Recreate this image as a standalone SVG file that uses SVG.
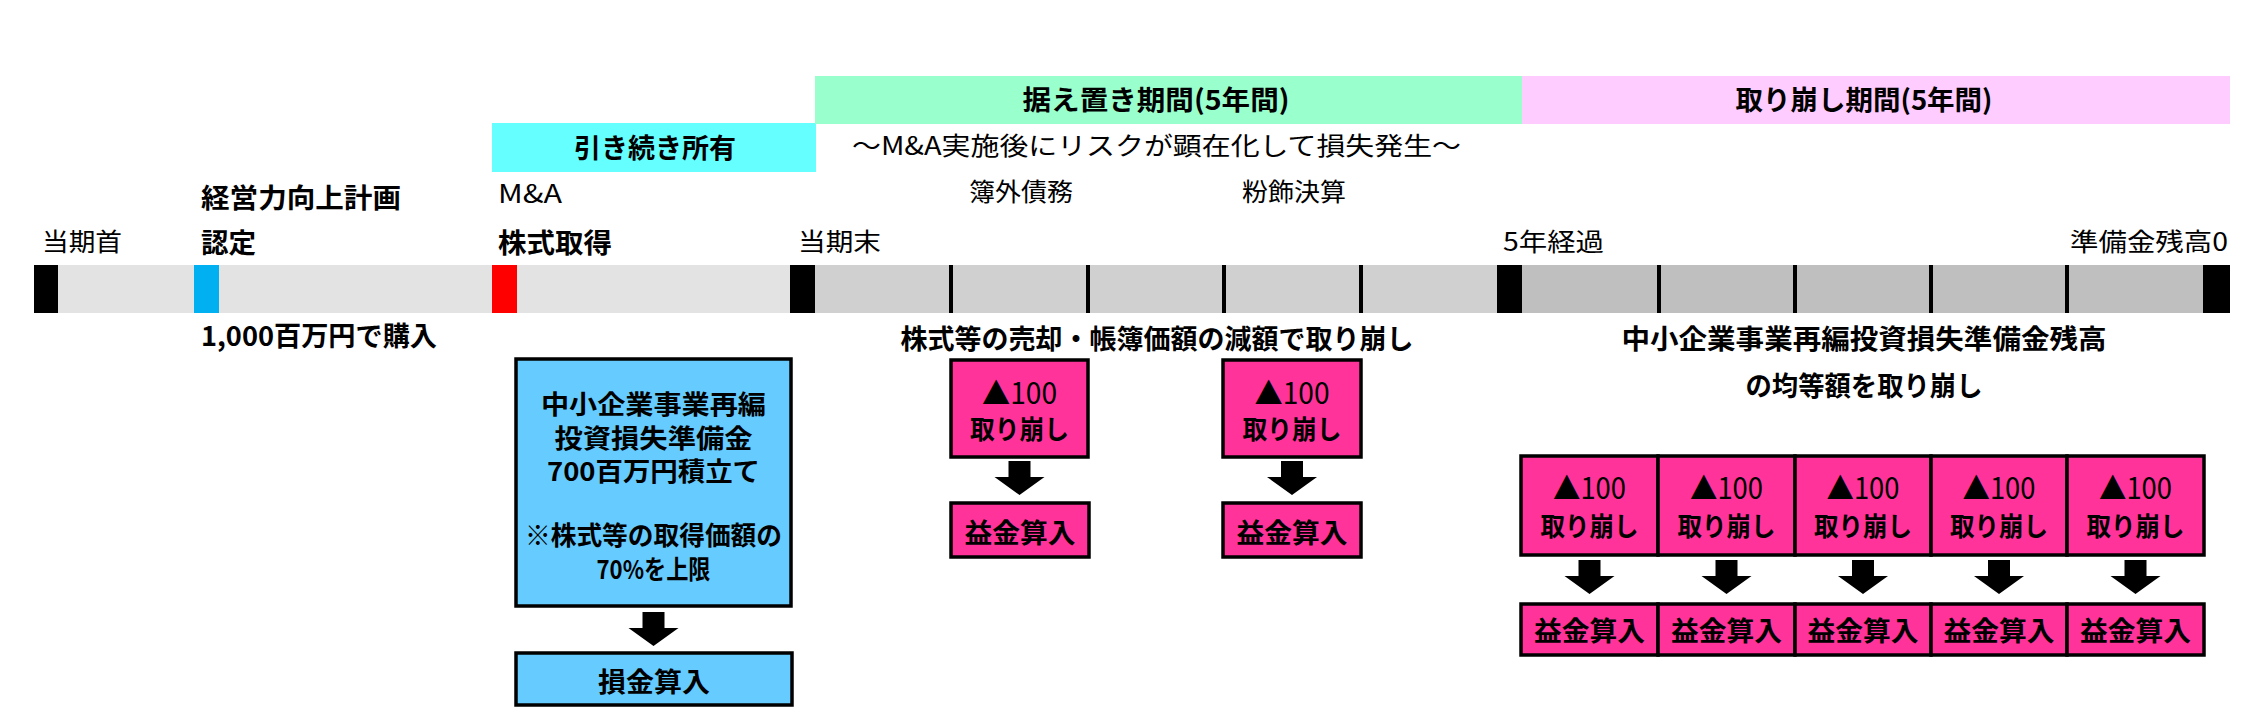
<svg xmlns="http://www.w3.org/2000/svg" xmlns:xlink="http://www.w3.org/1999/xlink" width="2260" height="720" viewBox="0 0 2260 720">
<style>
text{font-family:'Noto Sans CJK JP','Noto Sans',sans-serif;fill:#000}
.n{font-size:25px;font-weight:400}
.b{font-size:27px;font-weight:700}
.bx{font-size:26px;font-weight:700}
.tri{font-size:30px;font-weight:400}
.c{text-anchor:middle}
.blk{fill:#000}
.pk{fill:#ff3399;stroke:#000;stroke-width:3.5}
.bl{fill:#66ccff;stroke:#000;stroke-width:3.5}
.tick{stroke:#000;stroke-width:4}
</style>
<defs>
<path id="arr" d="M-11,0 H11 V16 H25 L0,34 L-25,16 H-11 Z" fill="#000"/>
</defs>
<rect width="2260" height="720" fill="#fff"/>

<g id="period-hold">
<rect x="492" y="123" width="324" height="49" fill="#66ffff"/>
<text class="b c" x="655" y="158" textLength="162" lengthAdjust="spacingAndGlyphs">引き続き所有</text>
</g>
<g id="period-defer">
<rect x="815" y="76" width="708" height="48" fill="#99ffcc"/>
<text class="b c" x="1156" y="110" textLength="267" lengthAdjust="spacingAndGlyphs">据え置き期間(5年間)</text>
</g>
<g id="period-reverse">
<rect x="1522" y="76" width="708" height="48" fill="#ffccff"/>
<text class="b c" x="1864" y="110" textLength="257" lengthAdjust="spacingAndGlyphs">取り崩し期間(5年間)</text>
</g>
<g id="risk-note">
<text class="n" x="852" y="155" textLength="609" lengthAdjust="spacingAndGlyphs">～M&amp;A実施後にリスクが顕在化して損失発生～</text>
<text class="n" x="969" y="201" textLength="104" lengthAdjust="spacingAndGlyphs">簿外債務</text>
<text class="n" x="1242" y="201" textLength="104" lengthAdjust="spacingAndGlyphs">粉飾決算</text>
</g>

<g id="timeline">
<rect x="34" y="265" width="781" height="48" fill="#e3e3e3"/>
<rect x="815" y="265" width="682" height="48" fill="#d0d0d0"/>
<rect x="1522" y="265" width="681" height="48" fill="#bfbfbf"/>
<rect class="blk" x="34" y="265" width="24" height="48"/>
<rect class="blk" x="790" y="265" width="25" height="48"/>
<rect class="blk" x="1497" y="265" width="25" height="48"/>
<rect class="blk" x="2203" y="265" width="27" height="48"/>
<rect x="194" y="265" width="25" height="48" fill="#00b0f0"/>
<rect x="492" y="265" width="25" height="48" fill="#ff0000"/>
<line class="tick" x1="951" y1="265" x2="951" y2="313"/>
<line class="tick" x1="1088" y1="265" x2="1088" y2="313"/>
<line class="tick" x1="1224" y1="265" x2="1224" y2="313"/>
<line class="tick" x1="1361" y1="265" x2="1361" y2="313"/>
<line class="tick" x1="1659" y1="265" x2="1659" y2="313"/>
<line class="tick" x1="1795" y1="265" x2="1795" y2="313"/>
<line class="tick" x1="1931" y1="265" x2="1931" y2="313"/>
<line class="tick" x1="2067" y1="265" x2="2067" y2="313"/>
<text class="n" x="42" y="251" textLength="80" lengthAdjust="spacingAndGlyphs">当期首</text>
<text class="n" x="798" y="251" textLength="83" lengthAdjust="spacingAndGlyphs">当期末</text>
<text class="n" x="1503" y="251" textLength="101" lengthAdjust="spacingAndGlyphs">5年経過</text>
<text class="n" x="2070" y="251" textLength="158" lengthAdjust="spacingAndGlyphs">準備金残高0</text>
</g>

<g id="approval">
<text class="b" x="201" y="208" textLength="200" lengthAdjust="spacingAndGlyphs">経営力向上計画</text>
<text class="b" x="201" y="253" textLength="55" lengthAdjust="spacingAndGlyphs">認定</text>
<text class="b" x="201" y="346" textLength="236" lengthAdjust="spacingAndGlyphs">1,000百万円で購入</text>
</g>
<g id="acquisition">
<text class="n" x="498" y="203" textLength="64" lengthAdjust="spacingAndGlyphs">M&amp;A</text>
<text class="b" x="498" y="253" textLength="114" lengthAdjust="spacingAndGlyphs">株式取得</text>
</g>

<g id="reserve">
<rect class="bl" x="516" y="359" width="275" height="247"/>
<text class="bx c" x="653.5" y="414" textLength="225" lengthAdjust="spacingAndGlyphs">中小企業事業再編</text>
<text class="bx c" x="653.5" y="448" textLength="198" lengthAdjust="spacingAndGlyphs">投資損失準備金</text>
<text class="bx c" x="653.5" y="481" textLength="213" lengthAdjust="spacingAndGlyphs">700百万円積立て</text>
<text class="bx c" x="653.5" y="545" textLength="257" lengthAdjust="spacingAndGlyphs">※株式等の取得価額の</text>
<text class="bx c" x="653.5" y="579" textLength="114" lengthAdjust="spacingAndGlyphs">70%を上限</text>
</g>
<g id="loss">
<rect class="bl" x="516" y="653" width="276" height="52"/>
<text class="b c" x="654" y="692" textLength="112" lengthAdjust="spacingAndGlyphs">損金算入</text>
</g>

<g id="defer-caption">
<text class="b c" x="1157" y="349" textLength="513" lengthAdjust="spacingAndGlyphs">株式等の売却・帳簿価額の減額で取り崩し</text>
</g>
<g id="defer-1">
<rect class="pk" x="951" y="360" width="137" height="97"/>
<text class="tri c" x="1019.5" y="404" textLength="75" lengthAdjust="spacingAndGlyphs">▲100</text>
<text class="bx c" x="1019.5" y="439" textLength="99" lengthAdjust="spacingAndGlyphs">取り崩し</text>
</g>
<g id="defer-1-gain">
<rect class="pk" x="951" y="503" width="138" height="54"/>
<text class="b c" x="1020" y="543" textLength="111" lengthAdjust="spacingAndGlyphs">益金算入</text>
</g>
<g id="defer-2">
<rect class="pk" x="1223" y="360" width="138" height="97"/>
<text class="tri c" x="1292" y="404" textLength="75" lengthAdjust="spacingAndGlyphs">▲100</text>
<text class="bx c" x="1292" y="439" textLength="99" lengthAdjust="spacingAndGlyphs">取り崩し</text>
</g>
<g id="defer-2-gain">
<rect class="pk" x="1223" y="503" width="138" height="54"/>
<text class="b c" x="1292" y="543" textLength="111" lengthAdjust="spacingAndGlyphs">益金算入</text>
</g>

<g id="reverse-caption">
<text class="b c" x="1864" y="349" textLength="485" lengthAdjust="spacingAndGlyphs">中小企業事業再編投資損失準備金残高</text>
<text class="b c" x="1864" y="396" textLength="237" lengthAdjust="spacingAndGlyphs">の均等額を取り崩し</text>
</g>
<g id="rev-1"><rect class="pk" x="1521" y="456" width="137" height="99"/><text class="tri c" x="1589.5" y="499" textLength="73" lengthAdjust="spacingAndGlyphs">▲100</text><text class="bx c" x="1589.5" y="536" textLength="98" lengthAdjust="spacingAndGlyphs">取り崩し</text></g>
<g id="rev-2"><rect class="pk" x="1658" y="456" width="137" height="99"/><text class="tri c" x="1726.5" y="499" textLength="73" lengthAdjust="spacingAndGlyphs">▲100</text><text class="bx c" x="1726.5" y="536" textLength="98" lengthAdjust="spacingAndGlyphs">取り崩し</text></g>
<g id="rev-3"><rect class="pk" x="1795" y="456" width="136" height="99"/><text class="tri c" x="1863" y="499" textLength="73" lengthAdjust="spacingAndGlyphs">▲100</text><text class="bx c" x="1863" y="536" textLength="98" lengthAdjust="spacingAndGlyphs">取り崩し</text></g>
<g id="rev-4"><rect class="pk" x="1931" y="456" width="136" height="99"/><text class="tri c" x="1999" y="499" textLength="73" lengthAdjust="spacingAndGlyphs">▲100</text><text class="bx c" x="1999" y="536" textLength="98" lengthAdjust="spacingAndGlyphs">取り崩し</text></g>
<g id="rev-5"><rect class="pk" x="2067" y="456" width="137" height="99"/><text class="tri c" x="2135.5" y="499" textLength="73" lengthAdjust="spacingAndGlyphs">▲100</text><text class="bx c" x="2135.5" y="536" textLength="98" lengthAdjust="spacingAndGlyphs">取り崩し</text></g>
<g id="rev-1-gain"><rect class="pk" x="1521" y="604" width="137" height="51"/><text class="b c" x="1589.5" y="641" textLength="111" lengthAdjust="spacingAndGlyphs">益金算入</text></g>
<g id="rev-2-gain"><rect class="pk" x="1658" y="604" width="137" height="51"/><text class="b c" x="1726.5" y="641" textLength="111" lengthAdjust="spacingAndGlyphs">益金算入</text></g>
<g id="rev-3-gain"><rect class="pk" x="1795" y="604" width="136" height="51"/><text class="b c" x="1863" y="641" textLength="111" lengthAdjust="spacingAndGlyphs">益金算入</text></g>
<g id="rev-4-gain"><rect class="pk" x="1931" y="604" width="136" height="51"/><text class="b c" x="1999" y="641" textLength="111" lengthAdjust="spacingAndGlyphs">益金算入</text></g>
<g id="rev-5-gain"><rect class="pk" x="2067" y="604" width="137" height="51"/><text class="b c" x="2135.5" y="641" textLength="111" lengthAdjust="spacingAndGlyphs">益金算入</text></g>

<g id="connectors">
<use xlink:href="#arr" x="653.5" y="612"/>
<use xlink:href="#arr" x="1019.5" y="461"/>
<use xlink:href="#arr" x="1292" y="461"/>
<use xlink:href="#arr" x="1589.5" y="560"/>
<use xlink:href="#arr" x="1726.5" y="560"/>
<use xlink:href="#arr" x="1863" y="560"/>
<use xlink:href="#arr" x="1999" y="560"/>
<use xlink:href="#arr" x="2135.5" y="560"/>
</g>
</svg>
